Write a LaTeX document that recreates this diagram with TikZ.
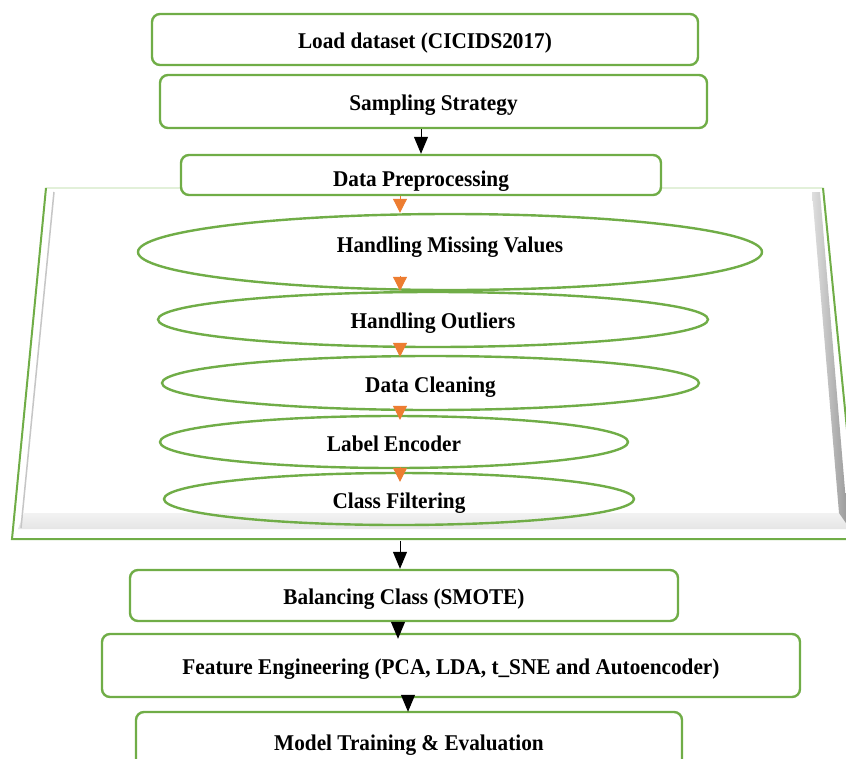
\documentclass[tikz,border=0pt]{standalone}
\usepackage{fontspec}
\setmainfont[FakeStretch=0.945]{Liberation Serif}
\usetikzlibrary{shapes.geometric, arrows.meta, positioning}

\definecolor{stageGreen}{RGB}{112,173,71}
\definecolor{paleGreen}{RGB}{226,240,217}
\definecolor{flowOrange}{RGB}{237,125,49}

\tikzset{
  stage/.style={draw=stageGreen, line width=2.4pt, rounded corners=8pt, fill=white,
    font=\bfseries\fontsize{22.5}{26}\selectfont, inner sep=0pt,
    text height=19pt, text depth=1pt},
  substage/.style={ellipse, draw=stageGreen, line width=2.4pt,
    font=\bfseries\fontsize{22.5}{26}\selectfont, inner sep=0pt,
    text height=19pt, text depth=1pt},
}

\begin{document}
\begin{tikzpicture}[x=1pt, y=-1pt]
    \useasboundingbox (0,0) rectangle (846,758);

    % bevelled panel behind the preprocessing steps
    \fill[white] (46,188) -- (823,188) -- (858,540) -- (12,540) -- cycle;
    \shade[top color=gray!10, middle color=gray!60, bottom color=gray!20]
      (24,513) -- (840,513) -- (850,529) -- (18,529) -- cycle;
    \shade[left color=gray!25, right color=gray!80]
      (812,192) -- (820,192) -- (848,526) -- (839,513) -- cycle;
    \draw[gray!45, line width=1.5pt] (54,192) -- (21,528);
    \draw[paleGreen, line width=2pt] (46,188) -- (823,188);
    \draw[stageGreen, line width=2pt] (46,188) -- (12,539) -- (858,539);
    \draw[stageGreen, line width=2pt] (823,188) -- (858,540);

    \node(load)[stage, minimum width=546pt, minimum height=51pt] at (425,39.5)
      {Load dataset (CICIDS2017)};
    \node(sampling)[stage, minimum width=547pt, minimum height=53pt] at (433.5,101.5)
      {Sampling Strategy};
    \node(prep)[stage, text height=24pt, minimum width=480pt, minimum height=40pt] at (421,175)
      {Data Preprocessing};

    \node(missing)[substage, text height=15pt, text depth=14pt, minimum width=624pt, minimum height=76pt] at (450,252)
      {Handling Missing Values};
    \node(outliers)[substage, minimum width=550pt, minimum height=55pt] at (433,319.5)
      {Handling Outliers};
    \node(cleaning)[substage, minimum width=537pt, minimum height=54pt] at (430.5,383)
      {Data Cleaning};
    \node(encoder)[substage, minimum width=468pt, minimum height=52pt] at (394,442)
      {Label Encoder};
    \node(filtering)[substage, minimum width=470pt, minimum height=52pt] at (399,499)
      {Class Filtering};

    \node(smote)[stage, minimum width=548pt, minimum height=51pt] at (404,595.5)
      {Balancing Class (SMOTE)};
    \node(features)[stage, minimum width=698pt, minimum height=63pt] at (451,665.5)
      {Feature Engineering (PCA, LDA, t\_SNE and Autoencoder)};
    \node(model)[stage, minimum width=546pt, minimum height=58pt] at (409,741)
      {Model Training \& Evaluation};

    \coordinate(spine) at (400,0);
    \coordinate(panelBase) at (400,541);
    \coordinate(featAxis) at (398,0);
    \coordinate(modelAxis) at (408,0);

    \path[every edge/.append style={-{Triangle[width=14pt,length=17pt]}, line width=1pt}]

    (sampling.south -| prep.north) edge (prep.north)
    (panelBase) edge (smote.north -| panelBase)
    (smote.south -| featAxis) edge ([yshift=-6pt]features.north -| featAxis)
    (features.south -| modelAxis) edge ([yshift=-1pt]model.north -| modelAxis)

    ;

    \path[every edge/.append style={-{Triangle[width=14pt,length=14pt]}, flowOrange, line width=1pt}]

    (prep.south -| spine) edge (missing.north -| spine)
    ([yshift=15pt]missing.south -| spine) edge (outliers.north -| spine)
    ([yshift=4pt]outliers.south -| spine) edge ([yshift=-2pt]cleaning.north -| spine)
    ([yshift=4pt]cleaning.south -| spine) edge ([yshift=-5pt]encoder.north -| spine)
    ([yshift=2pt]encoder.south -| spine) edge ([yshift=-10pt]filtering.north -| spine)

    ;
  \end{tikzpicture}
\end{document}
